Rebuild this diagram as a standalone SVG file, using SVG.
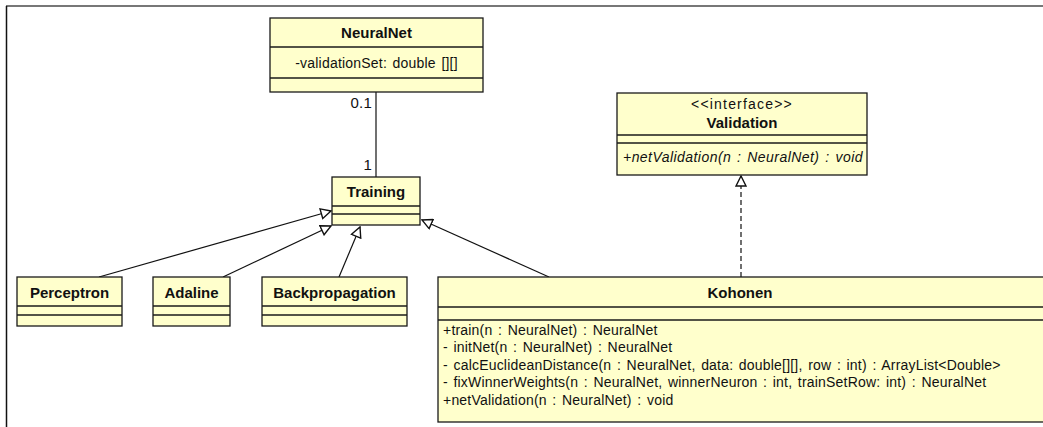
<svg xmlns="http://www.w3.org/2000/svg" width="1043" height="427" viewBox="0 0 1043 427">
<style>
.box{fill:#ffffcc;stroke:#1a1a1a;stroke-width:1.3}
.sep{stroke:#1a1a1a;stroke-width:1.3}
.t{font-family:"Liberation Sans",Arial,sans-serif;font-size:14px;letter-spacing:0.2px;word-spacing:1.5px;fill:#111}
.b{font-family:"Liberation Sans",Arial,sans-serif;font-size:15px;font-weight:bold;fill:#111}
.c{text-anchor:middle}
.i{font-style:italic;letter-spacing:0.45px}
.ln{stroke:#111;stroke-width:1.2;fill:none}
</style>
<defs>
<marker id="tri" viewBox="0 0 12 12" refX="11" refY="6" markerWidth="12" markerHeight="12" markerUnits="userSpaceOnUse" orient="auto">
<path d="M1,1 L11,6 L1,11 Z" fill="#fff" stroke="#111" stroke-width="1.4"/>
</marker>
</defs>
<rect width="1043" height="427" fill="#fff"/>
<line x1="6" y1="6" x2="1043" y2="6" stroke="#777" stroke-width="2"/>
<line x1="6.5" y1="6" x2="6.5" y2="427" stroke="#111" stroke-width="1.5"/>

<g id="connectors">
<line class="ln" x1="376" y1="92" x2="376" y2="177"/>
<text class="t" x="372" y="108" text-anchor="end" style="font-size:15px">0.1</text>
<text class="t" x="372" y="170" text-anchor="end" style="font-size:15px">1</text>
<line class="ln" x1="99" y1="277" x2="331" y2="211" marker-end="url(#tri)"/>
<line class="ln" x1="223" y1="277" x2="331" y2="226" marker-end="url(#tri)"/>
<line class="ln" x1="339" y1="277" x2="360" y2="227" marker-end="url(#tri)"/>
<line class="ln" x1="549" y1="277" x2="422" y2="220" marker-end="url(#tri)"/>
<line class="ln" x1="741" y1="277" x2="741" y2="176" stroke-dasharray="5,3" marker-end="url(#tri)"/>
</g>

<g id="NeuralNet">
<rect class="box" x="270" y="18" width="213" height="74"/>
<line class="sep" x1="270" y1="47" x2="483" y2="47"/>
<line class="sep" x1="270" y1="78" x2="483" y2="78"/>
<text class="b c" x="376.5" y="38">NeuralNet</text>
<text class="t c" x="376.5" y="68">-validationSet: double [][]</text>
</g>

<g id="Training">
<rect class="box" x="332" y="177" width="88" height="48"/>
<line class="sep" x1="332" y1="206" x2="420" y2="206"/>
<line class="sep" x1="332" y1="214" x2="420" y2="214"/>
<text class="b c" x="376" y="197">Training</text>
</g>

<g id="Validation">
<rect class="box" x="617" y="93" width="250" height="82"/>
<line class="sep" x1="617" y1="135" x2="867" y2="135"/>
<line class="sep" x1="617" y1="143" x2="867" y2="143"/>
<text class="t c" x="742" y="109" style="letter-spacing:1.2px">&lt;&lt;interface&gt;&gt;</text>
<text class="b c" x="742" y="128">Validation</text>
<text class="t i" x="623" y="162">+netValidation(n : NeuralNet) : void</text>
</g>

<g id="Perceptron">
<rect class="box" x="17" y="277" width="105" height="49"/>
<line class="sep" x1="17" y1="306" x2="122" y2="306"/>
<line class="sep" x1="17" y1="315" x2="122" y2="315"/>
<text class="b c" x="69.5" y="298">Perceptron</text>
</g>

<g id="Adaline">
<rect class="box" x="153" y="277" width="77" height="49"/>
<line class="sep" x1="153" y1="306" x2="230" y2="306"/>
<line class="sep" x1="153" y1="315" x2="230" y2="315"/>
<text class="b c" x="191.5" y="298">Adaline</text>
</g>

<g id="Backpropagation">
<rect class="box" x="262" y="277" width="145" height="49"/>
<line class="sep" x1="262" y1="306" x2="407" y2="306"/>
<line class="sep" x1="262" y1="315" x2="407" y2="315"/>
<text class="b c" x="334.5" y="298">Backpropagation</text>
</g>

<g id="Kohonen">
<rect class="box" x="438" y="277" width="610" height="145"/>
<line class="sep" x1="438" y1="307" x2="1043" y2="307"/>
<line class="sep" x1="438" y1="320" x2="1043" y2="320"/>
<text class="b c" x="740" y="298">Kohonen</text>
<text class="t" x="443" y="335">+train(n : NeuralNet) : NeuralNet</text>
<text class="t" x="443" y="352">- initNet(n : NeuralNet) : NeuralNet</text>
<text class="t" x="443" y="370">- calcEuclideanDistance(n : NeuralNet, data: double[][], row : int) : ArrayList&lt;Double&gt;</text>
<text class="t" x="443" y="387">- fixWinnerWeights(n : NeuralNet, winnerNeuron : int, trainSetRow: int) : NeuralNet</text>
<text class="t" x="443" y="405">+netValidation(n : NeuralNet) : void</text>
</g>
</svg>
